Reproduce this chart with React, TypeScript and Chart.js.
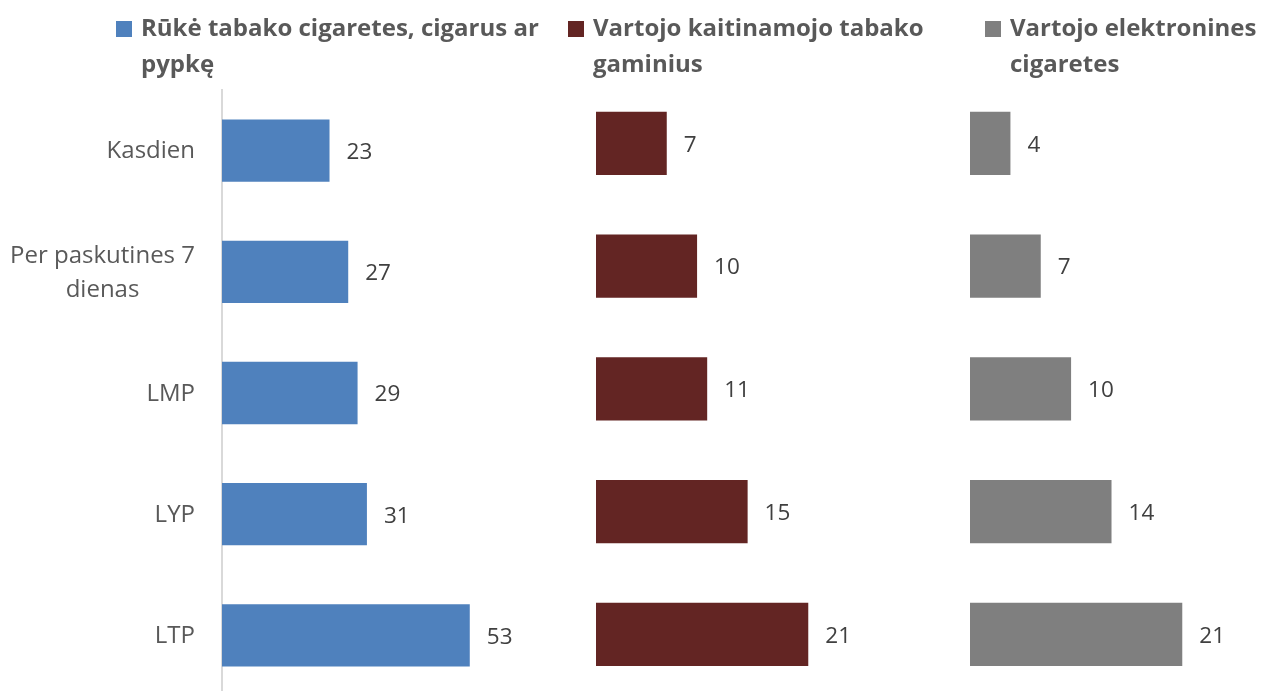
import React, { useEffect, useRef } from "react";
import { Chart, registerables } from "chart.js";

Chart.register(...registerables);

// ---- data ----
const categories: (string | string[])[] = [
  "Kasdien",
  ["Per paskutines 7", "dienas"],
  "LMP",
  "LYP",
  "LTP",
];
const smokingValues = [23, 27, 29, 31, 53];
const heatedValues = [7, 10, 11, 15, 21];
const ecigValues = [4, 7, 10, 14, 21];
const seriesNames: string[][] = [
  ["Rūkė tabako cigaretes, cigarus ar", "pypkę"],
  ["Vartojo kaitinamojo tabako", "gaminius"],
  ["Vartojo elektronines", "cigaretes"],
];
const seriesColors = ["#4F81BD", "#632523", "#7F7F7F"];

const FONT = "'Open Sans', Lato, sans-serif";

const categoryLabelPlugin = {
  id: "categoryLabels",
  afterDraw(chart: any) {
    const scale = chart.scales.y;
    const ctx = chart.ctx;
    ctx.save();
    ctx.font = `24px ${FONT}`;
    ctx.fillStyle = "#595959";
    ctx.textBaseline = "middle";
    ctx.textAlign = "center";
    const right = chart.chartArea.left - 27;
    const lineH = 34;
    categories.forEach((lab, i) => {
      const lines = Array.isArray(lab) ? lab : [lab];
      const w = Math.max(...lines.map((l) => ctx.measureText(l).width));
      const cx = right - w / 2;
      const cy = scale.getPixelForTick(i);
      const start = cy - ((lines.length - 1) * lineH) / 2;
      lines.forEach((l, j) => ctx.fillText(l, cx, start + j * lineH + 1));
    });
    ctx.restore();
  },
};

const valueLabelPlugin = {
  id: "valueLabels",
  afterDatasetsDraw(chart: any) {
    const ctx = chart.ctx;
    ctx.save();
    ctx.font = `22.5px ${FONT}`;
    ctx.fillStyle = "#404040";
    ctx.textBaseline = "middle";
    ctx.textAlign = "left";
    chart.data.datasets.forEach((ds: any, di: number) => {
      const meta = chart.getDatasetMeta(di);
      meta.data.forEach((el: any, i: number) => {
        const raw = ds.data[i];
        const v = typeof raw === "object" ? raw.x : raw;
        ctx.fillText(String(v), el.x + 17, el.y + 2);
      });
    });
    ctx.restore();
  },
};

const legendPlugin = {
  id: "panelLegend",
  afterDraw(chart: any, _args: any, opts: any) {
    const ctx = chart.ctx;
    ctx.save();
    ctx.font = `bold 24px ${FONT}`;
    ctx.textBaseline = "alphabetic";
    ctx.textAlign = "left";
    (opts.positions || []).forEach((p: any, i: number) => {
      ctx.fillStyle = seriesColors[i];
      ctx.fillRect(p.x, p.y, 16, 16);
      ctx.fillStyle = "#595959";
      seriesNames[i].forEach((line, j) => {
        ctx.fillText(line, p.x + 25, p.y + 15 + j * 35.5);
      });
    });
    ctx.restore();
  },
};

export default function App() {
  const ref = useRef<HTMLCanvasElement | null>(null);

  useEffect(() => {
    if (!ref.current) return;
    const chart = new Chart(ref.current, {
      type: "bar",
      data: {
        labels: categories as any,
        datasets: [
          {
            label: seriesNames[0].join(" "),
            data: smokingValues,
            backgroundColor: seriesColors[0],
            xAxisID: "x1",
            yAxisID: "y",
            grouped: false,
            categoryPercentage: 1,
            barPercentage: 0.514,
          } as any,
          {
            label: seriesNames[1].join(" "),
            data: heatedValues.map((v, i) => ({ x: v, y: i })),
            backgroundColor: seriesColors[1],
            xAxisID: "x2",
            yAxisID: "y2",
            grouped: false,
            categoryPercentage: 1,
            barPercentage: 0.515,
          } as any,
          {
            label: seriesNames[2].join(" "),
            data: ecigValues.map((v, i) => ({ x: v, y: i })),
            backgroundColor: seriesColors[2],
            xAxisID: "x3",
            yAxisID: "y2",
            grouped: false,
            categoryPercentage: 1,
            barPercentage: 0.515,
          } as any,
        ],
      },
      options: {
        indexAxis: "y",
        animation: false,
        responsive: false,
        devicePixelRatio: 1,
        layout: { padding: { top: 90, bottom: 4, left: 0, right: 11 } },
        plugins: {
          legend: { display: false },
          tooltip: { enabled: false },
          panelLegend: {
            positions: [
              { x: 116, y: 21 },
              { x: 568, y: 21 },
              { x: 985, y: 21 },
            ],
          },
        } as any,
        scales: {
          y: {
            type: "category",
            position: "left",
            grid: { display: false, drawTicks: false },
            border: { display: true, color: "#D9D9D9", width: 2 },
            ticks: { display: false },
            afterFit: (s: any) => {
              s.width = 222;
            },
          },
          y2: {
            type: "linear",
            position: "left",
            display: false,
            offset: false,
            grid: { offset: false },
            reverse: true,
            min: -0.434,
            max: 4.501,
            afterBuildTicks: (s: any) => {
              s.ticks = categories.map((_, i) => ({ value: i }));
            },
          },
          x1: {
            type: "linear",
            position: "bottom",
            stack: "panels",
            stackWeight: 374,
            min: 0,
            max: 80,
            display: false,
          },
          x2: {
            type: "linear",
            position: "bottom",
            stack: "panels",
            stackWeight: 374,
            min: 0,
            max: 37,
            display: false,
          },
          x3: {
            type: "linear",
            position: "bottom",
            stack: "panels",
            stackWeight: 280,
            min: 0,
            max: 27.7,
            display: false,
          },
        } as any,
      },
      plugins: [categoryLabelPlugin, valueLabelPlugin, legendPlugin],
    });
    return () => chart.destroy();
  }, []);

  return (
    <div
      style={{
        position: "fixed",
        top: 0,
        left: 0,
        width: 1261,
        height: 691,
        overflow: "hidden",
        background: "#ffffff",
      }}
    >
      <canvas ref={ref} width={1261} height={700} style={{ display: "block" }} />
    </div>
  );
}
